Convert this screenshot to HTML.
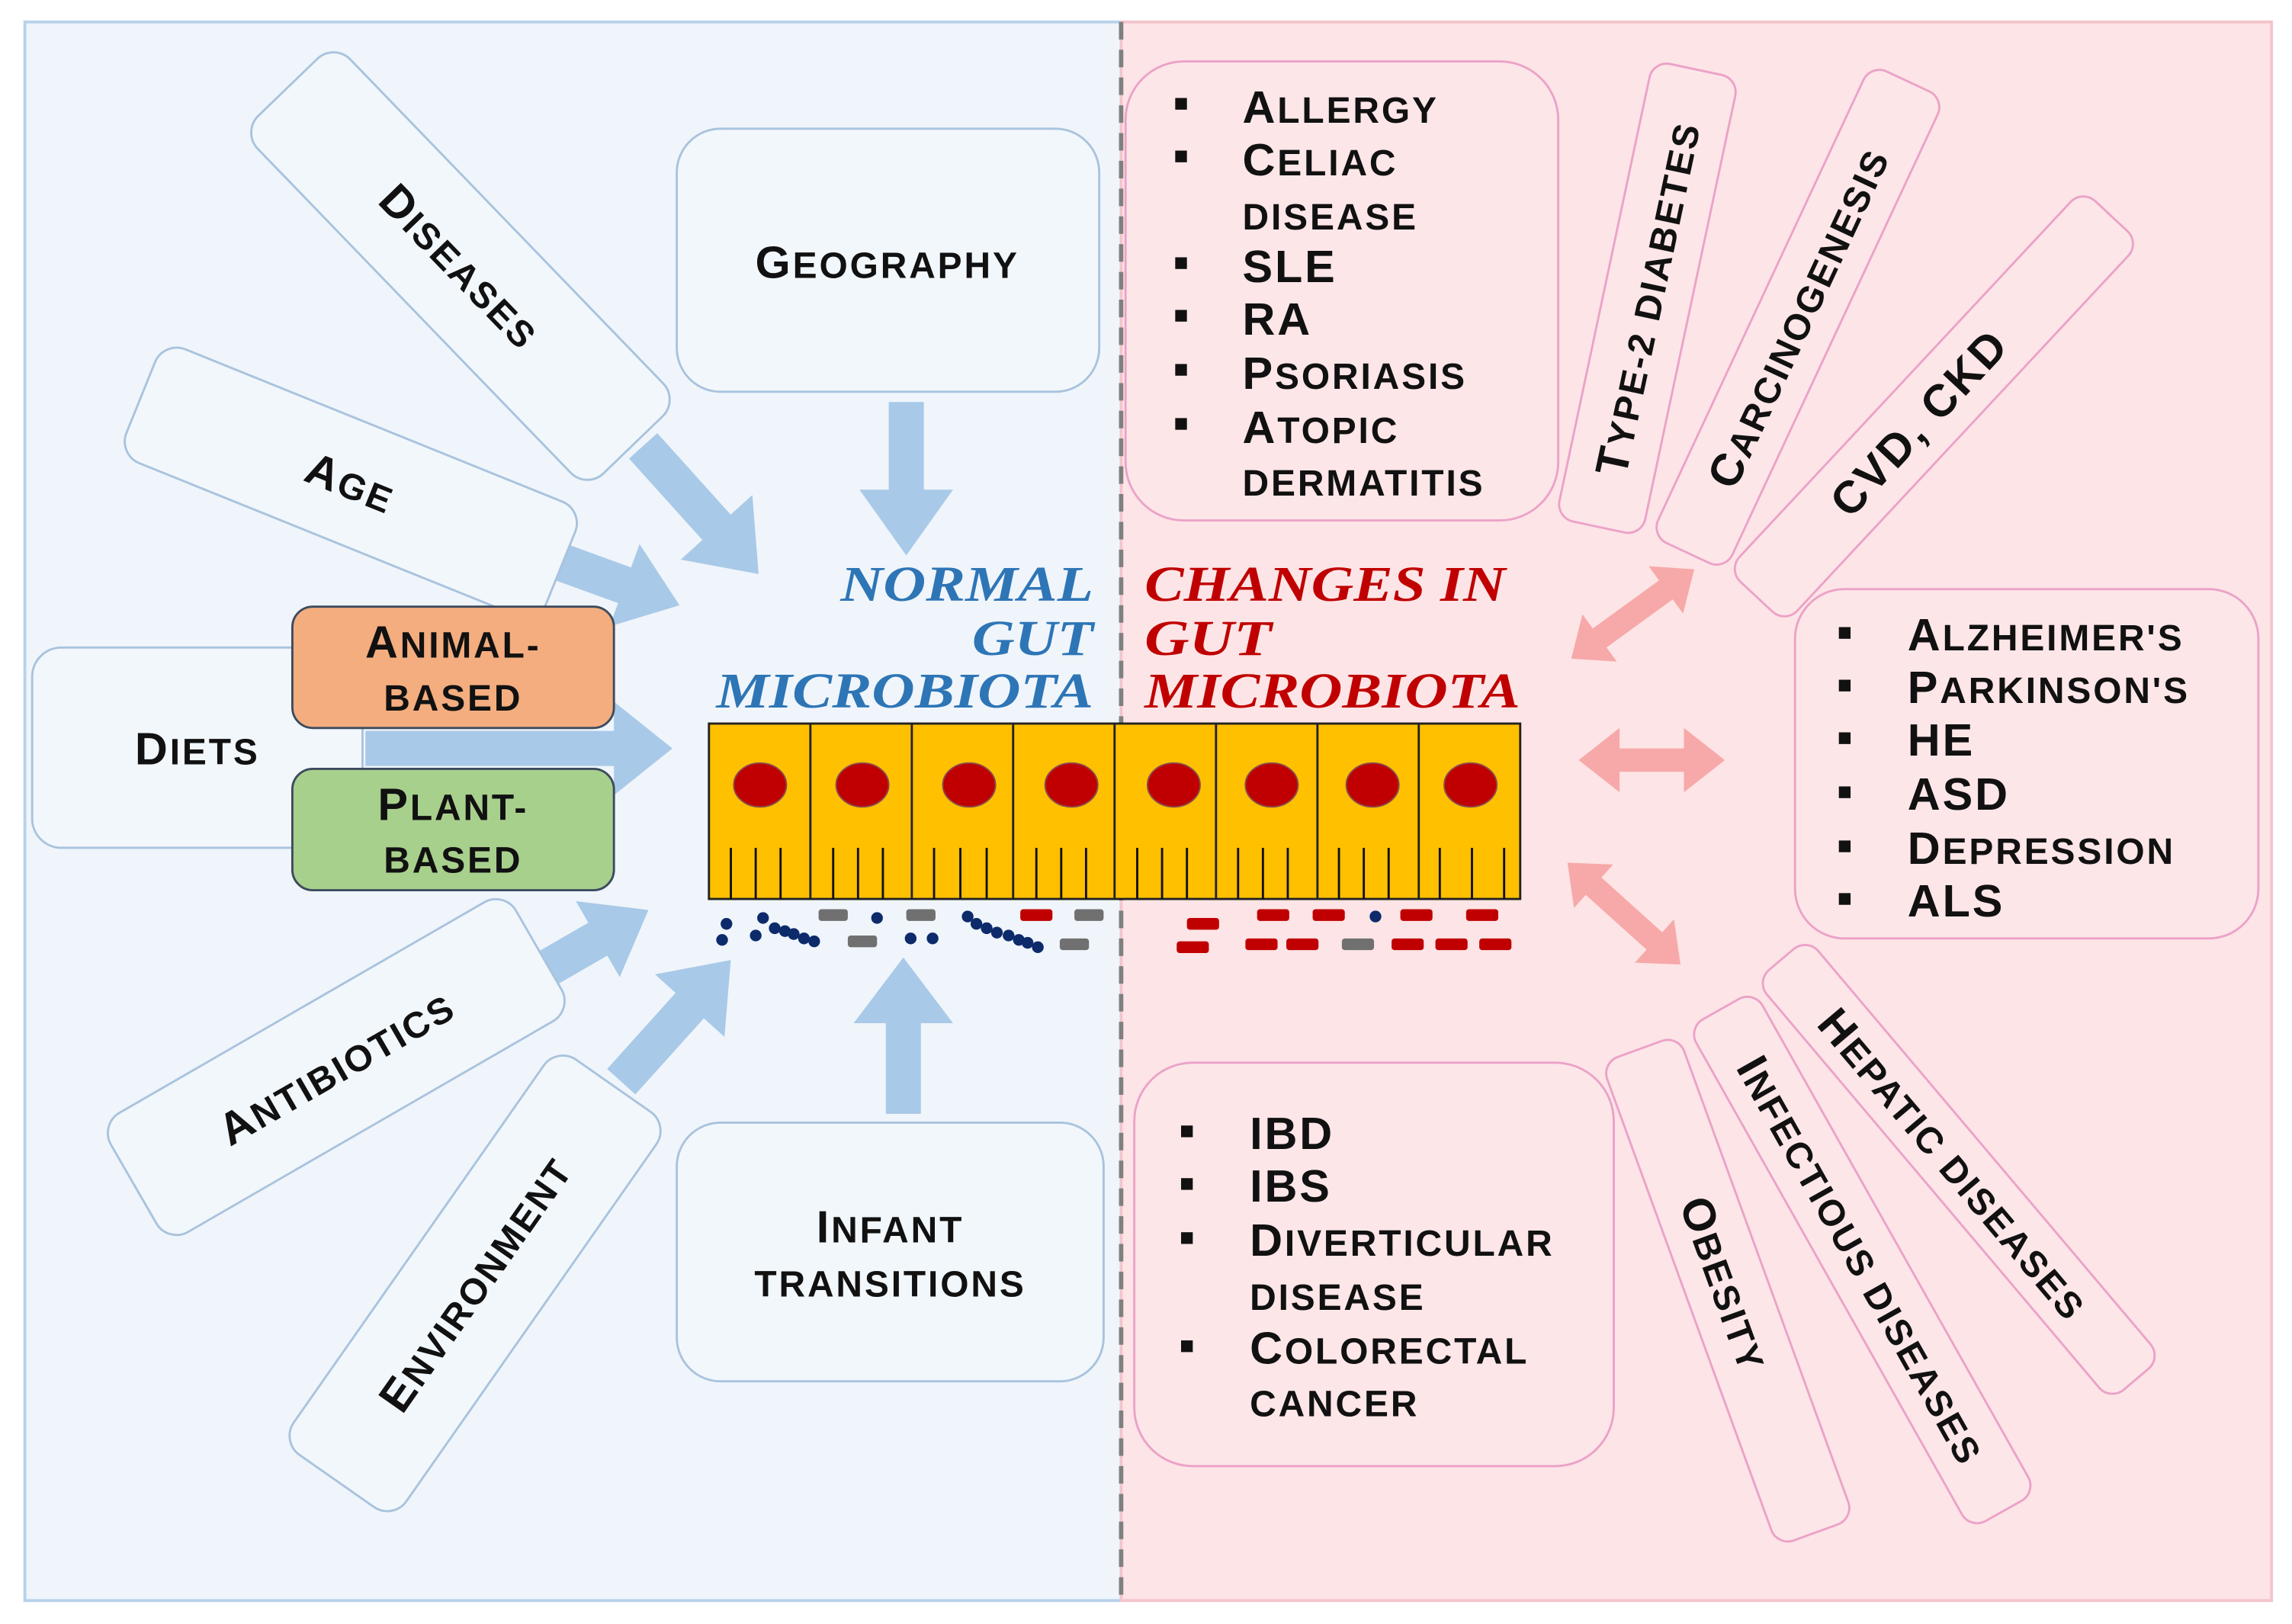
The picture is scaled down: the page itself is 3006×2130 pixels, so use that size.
<!DOCTYPE html>
<html><head><meta charset="utf-8"><style>
html,body{margin:0;padding:0;background:#fff;}
svg{display:block;}
.l{font-family:"Liberation Sans",sans-serif;font-weight:bold;font-size:25px;fill:#111;letter-spacing:1.5px;}
.c{font-size:31px;}
.h{font-family:"Liberation Serif",serif;font-weight:bold;font-style:italic;font-size:34px;}
.bx{fill:#f2f7fc;stroke:#a9c3dd;stroke-width:1.5;}
.px{fill:#fde6e8;stroke:#eba2c8;stroke-width:1.5;}
.ar{fill:#a9c9e8;}
.pa{fill:#f6a9a8;}
</style></head><body>
<svg width="3006" height="2130" viewBox="0 0 1568 1111" xmlns="http://www.w3.org/2000/svg">
<rect x="0" y="0" width="1568" height="1111" fill="#fff"/>
<rect x="17" y="15" width="750" height="1080" fill="#eff5fb" stroke="#b7d2ea" stroke-width="2"/>
<rect x="767" y="15" width="787" height="1080" fill="#fde4e6" stroke="#f3c4cc" stroke-width="2"/>
<line x1="767" y1="15" x2="767" y2="1095" stroke="#808080" stroke-width="3" stroke-dasharray="12,7"/>

<!-- blue arrows -->
<g class="ar">
<polygon points="608,275 632,275 632,335 652,335 620,380 588,335 608,335"/>
<g transform="translate(440,305) rotate(48)"><polygon points="0,-13 75,-13 75,-33 118,0 75,33 75,13 0,13"/></g>
<g transform="translate(385,385) rotate(20)"><polygon points="0,-13 45,-13 45,-30 85,0 45,30 45,13 0,13"/></g>
<polygon points="250,500 420,500 420,480 460,512 420,544 420,524 250,524"/>
<g transform="translate(370,665) rotate(-30)"><polygon points="0,-13 45,-13 45,-30 85,0 45,30 45,13 0,13"/></g>
<g transform="translate(425,740) rotate(-48)"><polygon points="0,-13 70,-13 70,-32 112,0 70,32 70,13 0,13"/></g>
<polygon points="606,762 630,762 630,700 652,700 618,655 584,700 606,700"/>
</g>

<!-- left boxes -->
<g transform="translate(315,182) rotate(46)"><rect class="bx" x="-170" y="-44" width="340" height="88" rx="16"/><text class="l" x="0" y="11" text-anchor="middle"><tspan class="c">D</tspan>ISEASES</text></g>
<g transform="translate(240,330) rotate(22)"><rect class="bx" x="-155" y="-42" width="310" height="84" rx="16"/><text class="l" x="0" y="11" text-anchor="middle"><tspan class="c">A</tspan>GE</text></g>
<rect class="bx" x="463" y="88" width="289" height="180" rx="30"/>
<text class="l" x="607" y="190" text-anchor="middle"><tspan class="c">G</tspan>EOGRAPHY</text>
<rect class="bx" x="22" y="443" width="226" height="137" rx="20"/>
<text class="l" x="135" y="523" text-anchor="middle"><tspan class="c">D</tspan>IETS</text>
<rect x="200" y="415" width="220" height="83" rx="14" fill="#f4ad7f" stroke="#3d4b5e" stroke-width="1.5"/>
<text class="l" x="310" y="450" text-anchor="middle"><tspan class="c">A</tspan>NIMAL-</text><text class="l" x="310" y="486" text-anchor="middle">BASED</text>
<rect x="200" y="526" width="220" height="83" rx="14" fill="#a8d08d" stroke="#3d4b5e" stroke-width="1.5"/>
<text class="l" x="310" y="561" text-anchor="middle"><tspan class="c">P</tspan>LANT-</text><text class="l" x="310" y="597" text-anchor="middle">BASED</text>
<g transform="translate(230,730) rotate(-30)"><rect class="bx" x="-160" y="-47" width="320" height="94" rx="16"/><text class="l" x="0" y="11" text-anchor="middle"><tspan class="c">A</tspan>NTIBIOTICS</text></g>
<g transform="translate(325,878) rotate(-55)"><rect class="bx" x="-165" y="-47" width="330" height="94" rx="16"/><text class="l" x="0" y="11" text-anchor="middle"><tspan class="c">E</tspan>NVIRONMENT</text></g>
<rect class="bx" x="463" y="768" width="292" height="177" rx="30"/>
<text class="l" x="609" y="850" text-anchor="middle"><tspan class="c">I</tspan>NFANT</text><text class="l" x="609" y="887" text-anchor="middle">TRANSITIONS</text>

<!-- headings -->
<g class="h" fill="#2e75b6" text-anchor="end"><text x="748" y="411" textLength="173" lengthAdjust="spacingAndGlyphs">NORMAL</text><text x="748" y="448" textLength="83" lengthAdjust="spacingAndGlyphs">GUT</text><text x="748" y="484" textLength="258" lengthAdjust="spacingAndGlyphs">MICROBIOTA</text></g>
<g class="h" fill="#c00000"><text x="783" y="411" textLength="247" lengthAdjust="spacingAndGlyphs">CHANGES IN</text><text x="783" y="448" textLength="87" lengthAdjust="spacingAndGlyphs">GUT</text><text x="783" y="484" textLength="257" lengthAdjust="spacingAndGlyphs">MICROBIOTA</text></g>

<!-- cells -->
<rect x="485" y="495" width="555" height="120" fill="#ffc000" stroke="#222" stroke-width="1.5"/>
<g stroke="#222" stroke-width="1.5">
<line x1="554.4" y1="495" x2="554.4" y2="615"/><line x1="623.8" y1="495" x2="623.8" y2="615"/><line x1="693.1" y1="495" x2="693.1" y2="615"/><line x1="762.5" y1="495" x2="762.5" y2="615"/><line x1="831.9" y1="495" x2="831.9" y2="615"/><line x1="901.3" y1="495" x2="901.3" y2="615"/><line x1="970.6" y1="495" x2="970.6" y2="615"/>
</g>
<g fill="#c00000" stroke="#8a4a4a" stroke-width="1">
<ellipse cx="520" cy="537" rx="18" ry="15"/><ellipse cx="590" cy="537" rx="18" ry="15"/><ellipse cx="663" cy="537" rx="18" ry="15"/><ellipse cx="733" cy="537" rx="18" ry="15"/><ellipse cx="803" cy="537" rx="18" ry="15"/><ellipse cx="870" cy="537" rx="18" ry="15"/><ellipse cx="939" cy="537" rx="18" ry="15"/><ellipse cx="1006" cy="537" rx="18" ry="15"/>
</g>
<g stroke="#111" stroke-width="1.5">
<line x1="500" y1="580" x2="500" y2="615"/><line x1="517" y1="580" x2="517" y2="615"/><line x1="534" y1="580" x2="534" y2="615"/>
<line x1="570" y1="580" x2="570" y2="615"/><line x1="587" y1="580" x2="587" y2="615"/><line x1="604" y1="580" x2="604" y2="615"/>
<line x1="639" y1="580" x2="639" y2="615"/><line x1="657" y1="580" x2="657" y2="615"/><line x1="675" y1="580" x2="675" y2="615"/>
<line x1="709" y1="580" x2="709" y2="615"/><line x1="726" y1="580" x2="726" y2="615"/><line x1="743" y1="580" x2="743" y2="615"/>
<line x1="778" y1="580" x2="778" y2="615"/><line x1="795" y1="580" x2="795" y2="615"/><line x1="812" y1="580" x2="812" y2="615"/>
<line x1="847" y1="580" x2="847" y2="615"/><line x1="864" y1="580" x2="864" y2="615"/><line x1="881" y1="580" x2="881" y2="615"/>
<line x1="916" y1="580" x2="916" y2="615"/><line x1="933" y1="580" x2="933" y2="615"/><line x1="950" y1="580" x2="950" y2="615"/>
<line x1="985" y1="580" x2="985" y2="615"/><line x1="1007" y1="580" x2="1007" y2="615"/><line x1="1029" y1="580" x2="1029" y2="615"/>
</g>
<!-- bacteria -->
<g fill="#0d2a6b">
<circle cx="497" cy="632" r="4"/><circle cx="494" cy="643" r="4"/><circle cx="522" cy="628" r="4"/><circle cx="517" cy="640" r="4"/><circle cx="530" cy="635" r="4"/><circle cx="537" cy="637" r="4"/><circle cx="543" cy="639" r="4"/><circle cx="550" cy="642" r="4"/><circle cx="557" cy="644" r="4"/>
<circle cx="600" cy="628" r="4"/><circle cx="623" cy="642" r="4"/><circle cx="638" cy="642" r="4"/>
<circle cx="662" cy="627" r="4"/><circle cx="668" cy="632" r="4"/><circle cx="675" cy="635" r="4"/><circle cx="682" cy="638" r="4"/><circle cx="690" cy="640" r="4"/><circle cx="697" cy="643" r="4"/><circle cx="703" cy="645" r="4"/><circle cx="710" cy="648" r="4"/>
<circle cx="941" cy="627" r="4"/>
</g>
<g fill="#707070">
<rect x="560" y="622" width="20" height="8" rx="2"/><rect x="580" y="640" width="20" height="8" rx="2"/><rect x="620" y="622" width="20" height="8" rx="2"/><rect x="735" y="622" width="20" height="8" rx="2"/><rect x="725" y="642" width="20" height="8" rx="2"/><rect x="918" y="642" width="22" height="8" rx="2"/>
</g>
<g fill="#c00000">
<rect x="698" y="622" width="22" height="8" rx="2"/><rect x="812" y="628" width="22" height="8" rx="2"/><rect x="805" y="644" width="22" height="8" rx="2"/>
<rect x="860" y="622" width="22" height="8" rx="2"/><rect x="898" y="622" width="22" height="8" rx="2"/><rect x="958" y="622" width="22" height="8" rx="2"/><rect x="1003" y="622" width="22" height="8" rx="2"/>
<rect x="852" y="642" width="22" height="8" rx="2"/><rect x="880" y="642" width="22" height="8" rx="2"/><rect x="952" y="642" width="22" height="8" rx="2"/><rect x="982" y="642" width="22" height="8" rx="2"/><rect x="1012" y="642" width="22" height="8" rx="2"/>
</g>

<!-- pink arrows -->
<g class="pa">
<g transform="translate(1117,420) rotate(-36)"><polygon points="-52,0 -28,-20 -28,-8 28,-8 28,-20 52,0 28,20 28,8 -28,8 -28,20"/></g>
<polygon points="1080,520 1108,498 1108,512 1152,512 1152,498 1180,520 1152,542 1152,528 1108,528 1108,542"/>
<g transform="translate(1111,625) rotate(42)"><polygon points="-52,0 -28,-20 -28,-8 28,-8 28,-20 52,0 28,20 28,8 -28,8 -28,20"/></g>
</g>

<!-- right boxes -->
<rect class="px" x="770" y="42" width="296" height="314" rx="40"/>
<g class="l"><g fill="#111">
<rect x="804" y="67" width="8" height="8"/><rect x="804" y="103" width="8" height="8"/><rect x="804" y="176" width="8" height="8"/><rect x="804" y="212" width="8" height="8"/><rect x="804" y="249" width="8" height="8"/><rect x="804" y="286" width="8" height="8"/></g>
<text x="850" y="84"><tspan class="c">A</tspan>LLERGY</text><text x="850" y="120"><tspan class="c">C</tspan>ELIAC</text><text x="850" y="157">DISEASE</text><text x="850" y="193" class="c">SLE</text><text x="850" y="229" class="c">RA</text><text x="850" y="266"><tspan class="c">P</tspan>SORIASIS</text><text x="850" y="303"><tspan class="c">A</tspan>TOPIC</text><text x="850" y="339">DERMATITIS</text></g>

<g transform="translate(1127,204) rotate(-78)"><rect class="px" x="-160" y="-30" width="320" height="60" rx="12"/><text class="l" x="0" y="11" text-anchor="middle"><tspan class="c">T</tspan>YPE-2 DIABETES</text></g>
<g transform="translate(1230,217) rotate(-65)"><rect class="px" x="-178" y="-28" width="356" height="56" rx="12"/><text class="l" x="0" y="11" text-anchor="middle"><tspan class="c">C</tspan>ARCINOGENESIS</text></g>
<g transform="translate(1323,278) rotate(-47)"><rect class="px" x="-178" y="-27" width="356" height="54" rx="12"/><text class="l c" x="-15" y="11" text-anchor="middle">CVD, CKD</text></g>

<rect class="px" x="1228" y="403" width="317" height="239" rx="34"/>
<g class="l"><g fill="#111">
<rect x="1258" y="429" width="8" height="8"/><rect x="1258" y="465" width="8" height="8"/><rect x="1258" y="501" width="8" height="8"/><rect x="1258" y="538" width="8" height="8"/><rect x="1258" y="575" width="8" height="8"/><rect x="1258" y="611" width="8" height="8"/></g>
<text x="1305" y="445"><tspan class="c">A</tspan>LZHEIMER'S</text><text x="1305" y="481"><tspan class="c">P</tspan>ARKINSON'S</text><text x="1305" y="517" class="c">HE</text><text x="1305" y="554" class="c">ASD</text><text x="1305" y="591"><tspan class="c">D</tspan>EPRESSION</text><text x="1305" y="627" class="c">ALS</text></g>

<rect class="px" x="776" y="727" width="328" height="276" rx="40"/>
<g class="l"><g fill="#111">
<rect x="808" y="770" width="8" height="8"/><rect x="808" y="806" width="8" height="8"/><rect x="808" y="843" width="8" height="8"/><rect x="808" y="917" width="8" height="8"/></g>
<text x="855" y="786" class="c">IBD</text><text x="855" y="822" class="c">IBS</text><text x="855" y="859"><tspan class="c">D</tspan>IVERTICULAR</text><text x="855" y="896">DISEASE</text><text x="855" y="933"><tspan class="c">C</tspan>OLORECTAL</text><text x="855" y="969">CANCER</text></g>

<g transform="translate(1182,883) rotate(70)"><rect class="px" x="-176" y="-28" width="352" height="56" rx="12"/><text class="l" x="-5" y="11" text-anchor="middle"><tspan class="c">O</tspan>BESITY</text></g>
<g transform="translate(1274,862) rotate(60.6)"><rect class="px" x="-197" y="-26" width="394" height="52" rx="12"/><text class="l" x="0" y="11" text-anchor="middle"><tspan class="c">I</tspan>NFECTIOUS DISEASES</text></g>
<g transform="translate(1340,800) rotate(49.8)"><rect class="px" x="-188" y="-23" width="376" height="46" rx="12"/><text class="l" x="-5" y="11" text-anchor="middle"><tspan class="c">H</tspan>EPATIC DISEASES</text></g>
</svg>
</body></html>
